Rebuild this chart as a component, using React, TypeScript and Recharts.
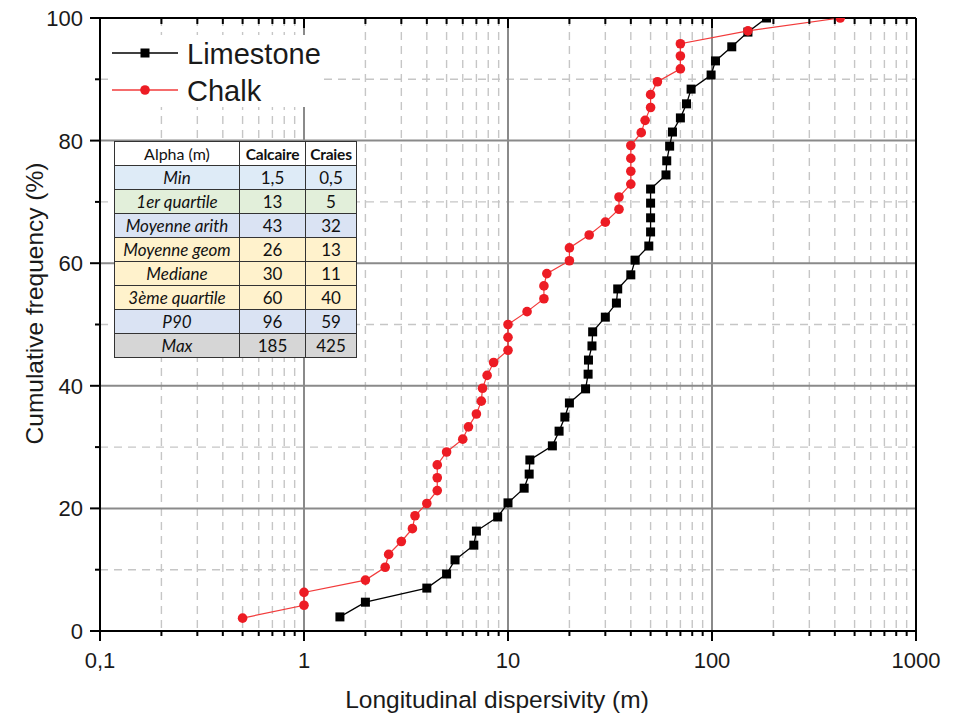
import React from 'react';
import { ScatterChart, Scatter, XAxis, YAxis, CartesianGrid, Legend } from 'recharts';

const limestoneAlpha = [
    1.5, 2, 4, 5, 5.5, 6.8, 7, 8.9, 10, 12, 12.7, 12.8, 16.5, 17.8, 19, 20, 24, 24.7, 24.8, 25.8, 26, 30,
    34, 34.5, 40, 42, 49, 50, 50, 50, 50, 59.5, 60, 62, 64, 70, 75, 79, 99, 104, 125, 150, 185
];
const limestoneFreq = [
    2.3, 4.7, 7.0, 9.3, 11.6, 14.0, 16.3, 18.6, 20.9, 23.3, 25.6, 27.9, 30.2, 32.6, 34.9, 37.2, 39.5, 41.9,
    44.2, 46.5, 48.8, 51.2, 53.5, 55.8, 58.1, 60.5, 62.8, 65.1, 67.4, 69.8, 72.1, 74.4, 76.7, 79.1, 81.4,
    83.7, 86.0, 88.4, 90.7, 93.0, 95.3, 97.7, 100
];
const chalkAlpha = [
    0.5, 1, 1, 2, 2.5, 2.6, 3, 3.4, 3.5, 4, 4.5, 4.5, 4.5, 5, 6, 6.4, 7, 7.4, 7.5, 7.9, 8.5, 10, 10, 10,
    12.4, 15, 15, 15.5, 20, 20, 25, 30, 35, 35, 40, 40, 40, 40, 45, 47, 50, 50, 54, 70, 70, 70, 150, 425
];
const chalkFreq = [
    2.1, 4.2, 6.3, 8.3, 10.4, 12.5, 14.6, 16.7, 18.8, 20.8, 22.9, 25.0, 27.1, 29.2, 31.3, 33.3, 35.4, 37.5,
    39.6, 41.7, 43.8, 45.8, 47.9, 50.0, 52.1, 54.2, 56.3, 58.3, 60.4, 62.5, 64.6, 66.7, 68.8, 70.8, 72.9,
    75.0, 77.1, 79.2, 81.3, 83.3, 85.4, 87.5, 89.6, 91.7, 93.8, 95.8, 97.9, 100
];

const seriesNames = ['Limestone', 'Chalk'];

const xMajorTicks = [0.1, 1, 10, 100, 1000];
const xMinorTicks = [
    0.2, 0.3, 0.4, 0.5, 0.6, 0.7, 0.8, 0.9,
    2, 3, 4, 5, 6, 7, 8, 9,
    20, 30, 40, 50, 60, 70, 80, 90,
    200, 300, 400, 500, 600, 700, 800, 900
];
const yMajorTicks = [0, 20, 40, 60, 80, 100];
const yMinorTicks = [10, 30, 50, 70, 90];

const statLabels = ['Min', '1er quartile', 'Moyenne arith', 'Moyenne geom', 'Mediane', '3ème quartile', 'P90', 'Max'];
const calcaireStats = ['1,5', '13', '43', '26', '30', '60', '96', '185'];
const craiesStats = ['0,5', '5', '32', '13', '11', '40', '59', '425'];

const rowColors = ['#deebf7', '#e2efda', '#dae3f3', '#fff2cc', '#fff2cc', '#fff2cc', '#dae3f3', '#d6d6d6'];

const limestone = limestoneAlpha.map((x, i) => ({ x, y: limestoneFreq[i] }));
const chalk = chalkAlpha.map((x, i) => ({ x, y: chalkFreq[i] }));

const xTicks = [...xMajorTicks, ...xMinorTicks].sort((a, b) => a - b);
const yTicks = [...yMajorTicks, ...yMinorTicks].sort((a, b) => a - b);
const xInner = xTicks.filter(v => v > 0.1 && v < 1000);
const xInnerMajor = xMajorTicks.filter(v => v > 0.1 && v < 1000);
const yInnerMajor = yMajorTicks.filter(v => v > 0 && v < 100);

const RED = '#ed1c24';
const FONT = '"Liberation Sans", Arial, sans-serif';

const fmt = (v: number) => String(v).replace('.', ',');

const SquareDot = (p: any) => <rect x={p.cx - 4.5} y={p.cy - 4.5} width={9} height={9} fill="#000" />;
const CircleDot = (p: any) => <circle cx={p.cx} cy={p.cy} r={4.8} fill={RED} />;

const BottomTick = (props: any) => {
    const { x, y, payload } = props;
    const major = xMajorTicks.includes(payload.value);
    const axisY = y - 14;
    return (
        <g>
            <line x1={x} x2={x} y1={axisY} y2={axisY + (major ? 10 : 5)} stroke="#000" strokeWidth={2} />
            {major && (
                <text x={x} y={axisY + 37} textAnchor="middle" fontSize={22} fontFamily={FONT} fill="#1a1a1a">
                    {fmt(payload.value)}
                </text>
            )}
        </g>
    );
};

const TopTick = (props: any) => {
    const { x, y, payload } = props;
    const major = xMajorTicks.includes(payload.value);
    return <line x1={x} x2={x} y1={y} y2={y + (major ? 10 : 6)} stroke="#000" strokeWidth={2} />;
};

const LeftTick = (props: any) => {
    const { x, y, payload } = props;
    const major = yMajorTicks.includes(payload.value);
    const axisX = x + 14;
    return (
        <g>
            <line x1={axisX - (major ? 10 : 5)} x2={axisX} y1={y} y2={y} stroke="#000" strokeWidth={2} />
            {major && (
                <text x={axisX - 17} y={y} dy="0.36em" textAnchor="end" fontSize={22} fontFamily={FONT} fill="#1a1a1a">
                    {payload.value}
                </text>
            )}
        </g>
    );
};

const seriesStyle: Record<string, { line: string; dot: 'square' | 'circle'; color: string }> = {
    Limestone: { line: '#000', dot: 'square', color: '#000' },
    Chalk: { line: '#f23b3b', dot: 'circle', color: RED },
};

const renderLegend = (props: any) => {
    const entries = [...(props.payload || [])].sort(
        (a: any, b: any) => seriesNames.indexOf(a.value) - seriesNames.indexOf(b.value)
    );
    return (
        <svg width={214} height={80} style={{ display: 'block' }}>
            <rect x={5} y={5} width={209} height={72} fill="#fff" />
            {entries.map((entry: any, i: number) => {
                const s = seriesStyle[entry.value] || seriesStyle.Limestone;
                const cy = i === 0 ? 23 : 60;
                return (
                    <g key={entry.value}>
                        <line x1={4} x2={70} y1={cy} y2={cy} stroke={s.line} strokeWidth={1.3} />
                        {s.dot === 'square'
                            ? <rect x={37 - 4.5} y={cy - 4.5} width={9} height={9} fill={s.color} />
                            : <circle cx={37} cy={cy} r={4.8} fill={s.color} />}
                        <text x={79} y={cy + 11} fontSize={29} fontFamily={FONT} fill="#1a1a1a">{entry.value}</text>
                    </g>
                );
            })}
        </svg>
    );
};

const XTitle = (props: any) => {
    const { viewBox } = props;
    return (
        <text x={viewBox.x + viewBox.width / 2 - 11} y={viewBox.y + 77} textAnchor="middle" fontSize={24.5} fontFamily={FONT} fill="#1a1a1a">
            Longitudinal dispersivity (m)
        </text>
    );
};

const YTitle = (props: any) => {
    const { viewBox } = props;
    const cx = viewBox.x + 34;
    const cy = viewBox.y + viewBox.height / 2 - 21;
    return (
        <text x={cx} y={cy} transform={`rotate(-90, ${cx}, ${cy})`} textAnchor="middle" dominantBaseline="central" fontSize={24.5} fontFamily={FONT} fill="#1a1a1a">
            Cumulative frequency (%)
        </text>
    );
};

const cell: React.CSSProperties = {
    border: '1px solid #333',
    padding: 0,
    height: 23,
    lineHeight: '22px',
    textAlign: 'center',
    whiteSpace: 'nowrap',
    overflow: 'hidden',
};

const headCell: React.CSSProperties = { ...cell, fontWeight: 700, fontSize: 15.5, letterSpacing: -0.2 };

const StatsTable = () => (
    <table
        style={{
            position: 'absolute',
            left: 114,
            top: 141,
            borderCollapse: 'collapse',
            tableLayout: 'fixed',
            width: 242,
            fontFamily: 'Lato, "Open Sans", sans-serif',
            fontSize: 17,
            color: '#111',
            background: '#fff',
        }}
    >
        <colgroup>
            <col style={{ width: 125 }} />
            <col style={{ width: 66 }} />
            <col style={{ width: 51 }} />
        </colgroup>
        <tbody>
            <tr>
                <td style={{ ...cell, fontSize: 16 }}>Alpha (m)</td>
                <td style={headCell}>Calcaire</td>
                <td style={headCell}>Craies</td>
            </tr>
            {statLabels.map((label, i) => (
                <tr key={label} style={{ background: rowColors[i] }}>
                    <td style={{ ...cell, fontStyle: 'italic' }}>{label}</td>
                    <td style={cell}>{calcaireStats[i]}</td>
                    <td style={cell}>{craiesStats[i]}</td>
                </tr>
            ))}
        </tbody>
    </table>
);

export default function App() {
    return (
        <div style={{ position: 'absolute', left: 0, top: 0, width: 956, height: 718, background: '#fff', fontFamily: FONT }}>
            <ScatterChart width={956} height={718} margin={{ top: 18, right: 40, bottom: 27, left: 0 }}>
                <CartesianGrid
                    stroke="#c6c6c6"
                    strokeWidth={1.4}
                    strokeDasharray="8 6"
                    verticalValues={xMinorTicks}
                    horizontalValues={yMinorTicks}
                    syncWithTicks
                />
                <CartesianGrid
                    stroke="#8a8a8a"
                    strokeWidth={2}
                    verticalValues={xInnerMajor}
                    horizontalValues={yInnerMajor}
                    syncWithTicks
                />
                <XAxis
                    dataKey="x"
                    type="number"
                    scale="log"
                    domain={[0.1, 1000]}
                    allowDataOverflow
                    ticks={xTicks}
                    interval={0}
                    height={60}
                    tickSize={10}
                    tickMargin={4}
                    tickLine={false}
                    axisLine={{ stroke: '#000', strokeWidth: 2 }}
                    tick={<BottomTick />}
                    label={<XTitle />}
                />
                <XAxis
                    xAxisId="top"
                    orientation="top"
                    mirror
                    dataKey="x"
                    type="number"
                    scale="log"
                    domain={[0.1, 1000]}
                    allowDataOverflow
                    ticks={xInner}
                    interval={0}
                    tickSize={0}
                    tickMargin={0}
                    tickLine={false}
                    axisLine={{ stroke: '#000', strokeWidth: 2 }}
                    tick={<TopTick />}
                />
                <YAxis
                    dataKey="y"
                    type="number"
                    domain={[0, 100]}
                    allowDataOverflow
                    ticks={yTicks}
                    interval={0}
                    width={100}
                    tickSize={10}
                    tickMargin={4}
                    tickLine={false}
                    axisLine={{ stroke: '#000', strokeWidth: 2 }}
                    tick={<LeftTick />}
                    label={<YTitle />}
                />
                <YAxis
                    yAxisId="right"
                    orientation="right"
                    mirror
                    type="number"
                    domain={[0, 100]}
                    tick={false}
                    tickLine={false}
                    axisLine={{ stroke: '#000', strokeWidth: 2 }}
                />
                <Legend
                    layout="horizontal"
                    align="center"
                    verticalAlign="middle"
                    content={renderLegend}
                    wrapperStyle={{ left: 108, top: 30, width: 214, height: 80 }}
                />
                <Scatter
                    name="Limestone"
                    data={limestone}
                    fill="#000"
                    line={{ stroke: '#000', strokeWidth: 1.3 }}
                    shape={SquareDot}
                    isAnimationActive={false}
                />
                <Scatter
                    name="Chalk"
                    data={chalk}
                    fill={RED}
                    line={{ stroke: '#f23b3b', strokeWidth: 1.2 }}
                    shape={CircleDot}
                    isAnimationActive={false}
                />
            </ScatterChart>
            <StatsTable />
        </div>
    );
}
